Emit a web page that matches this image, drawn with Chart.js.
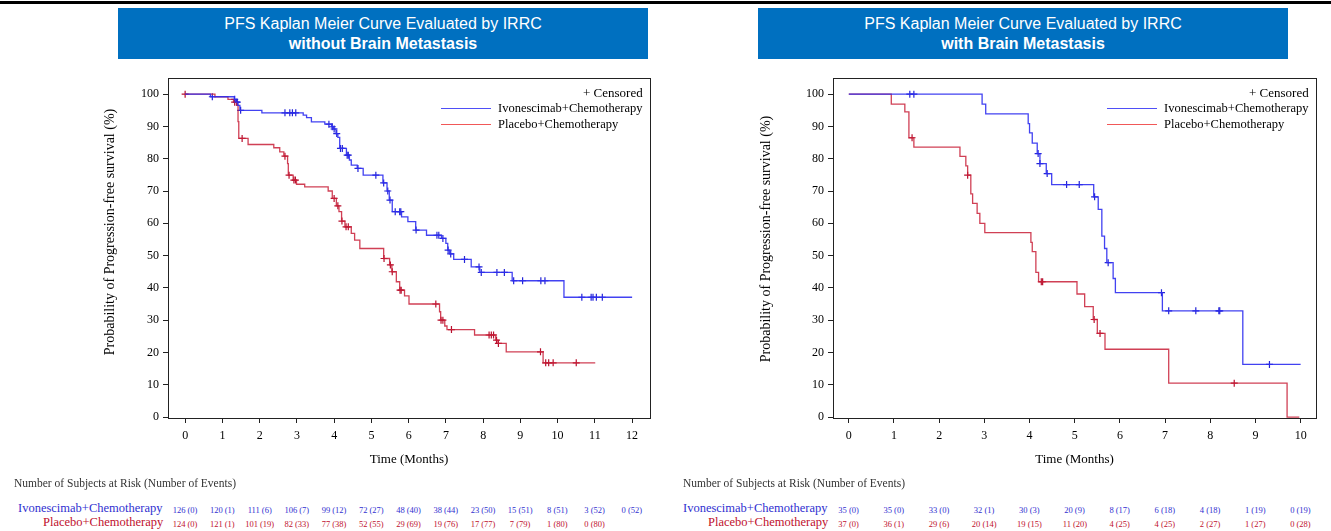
<!DOCTYPE html>
<html>
<head>
<meta charset="utf-8">
<script src="https://cdn.jsdelivr.net/npm/chart.js@4.4.1/dist/chart.umd.min.js"></script>
<style>
html,body{margin:0;padding:0;background:#fff;}
body{width:1331px;height:531px;position:relative;overflow:hidden;font-family:"Liberation Serif","Times New Roman",serif;}
.topline{position:absolute;left:0;top:1px;width:1331px;height:3px;background:#000;}
.tbox{position:absolute;top:8px;height:51px;width:530px;background:#0070C0;color:#fff;font-family:"Liberation Sans",Arial,sans-serif;font-size:16px;text-align:center;}
.tbox .l1{position:absolute;left:0;right:0;top:6px;line-height:20px;}
.tbox .l2{position:absolute;left:0;right:0;top:26px;line-height:20px;font-weight:bold;}
canvas{position:absolute;}
.abs{position:absolute;white-space:nowrap;line-height:1;}
.lg{font-size:12.5px;color:#000;}
.lgline{position:absolute;height:0;border-top:1.5px solid;}
.hdr{font-size:11.5px;color:#333;}
.rowlab{font-size:12.5px;}
.num{font-size:8.5px;}
.ytitle{position:absolute;width:320px;height:16px;line-height:16px;text-align:center;font-size:14px;color:#000;white-space:nowrap;transform:rotate(-90deg);transform-origin:50% 50%;}
</style>
</head>
<body>
<div class="topline"></div>
<div class="tbox" style="left:118px"><div class="l1">PFS Kaplan Meier Curve Evaluated by IRRC</div><div class="l2">without Brain Metastasis</div></div>
<div class="tbox" style="left:758px"><div class="l1">PFS Kaplan Meier Curve Evaluated by IRRC</div><div class="l2">with Brain Metastasis</div></div>
<canvas id="cL" width="562" height="410" style="left:98px;top:70px"></canvas>
<canvas id="cR" width="572" height="410" style="left:754px;top:70px"></canvas>
<div id="overlay"></div>
<script>
// ---------- data ----------
const seriesNames = ['Ivonescimab+Chemotherapy', 'Placebo+Chemotherapy'];
const riskHeader = 'Number of Subjects at Risk (Number of Events)';
const xTitle = 'Time (Months)';
const yTitle = 'Probability of Progression-free survival (%)';
const yTickValues = [0,10,20,30,40,50,60,70,80,90,100];

// Left panel: without brain metastasis
const leftXTicks = [0,1,2,3,4,5,6,7,8,9,10,11,12];
const leftIvoT = [0,0.68,1.32,1.36,1.42,1.47,2.06,3.17,3.26,3.39,3.75,3.93,3.98,4.05,4.10,4.15,4.33,4.41,4.46,4.62,4.78,5.31,5.42,5.48,5.56,5.81,5.98,6.19,6.48,6.88,7.00,7.05,7.10,7.21,7.68,7.91,8.78,10.17,12.0];
const leftIvoS = [100,99.2,98.4,97.5,96.5,95.0,94.2,93.5,92.7,91.4,90.7,89.9,89.2,87.8,86.6,83.2,81.1,79.6,78.0,77.0,74.9,72.5,70.0,67.2,63.6,62.0,60.5,57.9,56.3,55.3,53.8,51.7,50.5,48.8,46.5,44.8,42.2,37.1,37.1];
const leftIvoCens = [0.73,1.33,1.38,1.40,1.49,2.68,2.81,2.88,2.97,3.86,3.95,4.00,4.07,4.17,4.22,4.35,4.38,4.64,5.12,5.33,5.44,5.50,5.64,5.76,5.79,6.20,6.76,6.81,6.92,7.06,7.13,7.50,7.89,7.95,8.37,8.57,8.82,9.06,9.55,9.66,10.65,10.90,10.95,11.04,11.20];
const leftPboT = [0,0.80,1.15,1.30,1.38,1.42,1.44,1.69,2.38,2.54,2.65,2.75,2.77,2.90,2.99,3.21,3.84,3.95,4.06,4.13,4.20,4.29,4.46,4.55,4.69,5.33,5.49,5.55,5.67,5.76,5.89,6.01,6.83,6.86,6.97,7.03,7.77,8.34,8.40,8.62,9.61,11.01];
const leftPboS = [100,99.2,98.4,97.5,96.6,91.5,86.3,84.4,83.4,82.1,80.8,78.5,74.9,73.4,72.1,71.3,70.0,67.7,65.4,63.6,60.7,58.9,56.9,54.8,52.2,49.1,47.1,45.0,41.9,39.3,37.5,35.0,32.6,30.0,28.2,27.1,25.4,23.8,22.8,20.2,16.8,16.8];
const leftPboCens = [0,1.33,1.53,2.68,2.79,2.92,2.96,4.00,4.10,4.21,4.32,4.38,5.34,5.51,5.56,5.77,5.80,6.73,6.87,6.92,7.15,8.16,8.22,8.28,8.36,8.41,9.54,9.68,9.76,9.88,10.50];
const leftRiskIvo = [126,120,111,106,99,72,48,38,23,15,8,3,0];
const leftEventsIvo = [0,1,6,7,12,27,40,44,50,51,51,52,52];
const leftRiskPbo = [124,121,101,82,77,52,29,19,17,7,1,0];
const leftEventsPbo = [0,1,19,33,38,55,69,76,77,79,80,80];

// Right panel: with brain metastasis
const rightXTicks = [0,1,2,3,4,5,6,7,8,9,10];
const rightIvoT = [0,2.95,3.03,3.97,4.00,4.06,4.17,4.23,4.37,4.49,5.42,5.52,5.60,5.66,5.71,5.85,5.90,6.94,8.72,10.0];
const rightIvoS = [100,96.9,93.9,90.9,88.0,84.8,81.6,78.5,75.4,72.0,68.2,64.3,56.0,52.2,47.8,42.9,38.5,32.9,16.3,16.3];
const rightIvoCens = [1.35,1.44,4.19,4.23,4.39,4.82,5.10,5.44,5.74,6.92,7.08,7.68,8.19,8.21,9.31];
const rightPboT = [0,0.94,1.24,1.33,1.44,2.46,2.59,2.63,2.70,2.74,2.84,2.90,3.01,4.03,4.06,4.14,4.20,5.05,5.22,5.41,5.50,5.67,7.08,9.70,9.97];
const rightPboS = [100,96.9,94.5,86.5,83.6,80.7,77.8,74.9,69.1,66.2,63.1,60.0,57.1,54.1,51.2,44.8,41.9,38.1,34.2,30.2,25.9,21.0,10.5,0,0];
const rightPboCens = [1.40,2.63,4.26,4.29,5.43,5.56,8.53];
const rightRiskIvo = [35,35,33,32,30,20,8,6,4,1,0];
const rightEventsIvo = [0,0,0,1,3,9,17,18,18,19,19];
const rightRiskPbo = [37,36,29,20,19,11,4,4,2,1,0];
const rightEventsPbo = [0,1,6,14,15,20,25,25,27,27,28];

// ---------- styles ----------
const BLUE = 'rgba(45,45,240,0.9)';
const BLUE_MARK = '#2424d8';
const RED = 'rgba(200,30,55,0.85)';
const RED_MARK = '#b8102e';
const BLUE_TXT = '#3030d0';
const RED_TXT = '#c0102e';

function pts(T, S){ return T.map((t,i)=>({x:t, y:S[i]})); }
function survAt(T, S, t){ let v = S[0]; for (let i=0;i<T.length;i++){ if (T[i] <= t) v = S[i]; } return v; }
function censPts(C, T, S){ return C.map(t=>({x:t, y:survAt(T,S,t)})); }

const framePlugin = {
  id:'frame',
  afterDraw(chart){
    const a = chart.chartArea, ctx = chart.ctx;
    ctx.save(); ctx.strokeStyle = '#222'; ctx.lineWidth = 1;
    ctx.strokeRect(Math.round(a.left)+0.5, Math.round(a.top)+0.5, Math.round(a.right-a.left), Math.round(a.bottom-a.top));
    ctx.restore();
  }
};

function makeChart(id, cfg){
  const serif = 'Liberation Serif';
  return new Chart(document.getElementById(id), {
    type:'line',
    data:{datasets:[
      {label:seriesNames[0], data:pts(cfg.ivoT,cfg.ivoS), borderColor:BLUE, borderWidth:1.3, stepped:true, pointRadius:0, fill:false},
      {label:seriesNames[1], data:pts(cfg.pboT,cfg.pboS), borderColor:RED, borderWidth:1.3, stepped:true, pointRadius:0, fill:false},
      {label:'cens1', data:censPts(cfg.ivoC,cfg.ivoT,cfg.ivoS), showLine:false, pointStyle:'cross', pointRadius:3.5, pointBorderColor:BLUE_MARK, borderColor:BLUE_MARK, pointBorderWidth:1.2},
      {label:'cens2', data:censPts(cfg.pboC,cfg.pboT,cfg.pboS), showLine:false, pointStyle:'cross', pointRadius:3.5, pointBorderColor:RED_MARK, borderColor:RED_MARK, pointBorderWidth:1.2}
    ]},
    options:{
      responsive:false, animation:false, events:[],
      layout:{padding:{top:8,right:10,left:0,bottom:0}},
      plugins:{legend:{display:false}, tooltip:{enabled:false}},
      scales:{
        x:{type:'linear', min:cfg.xmin, max:cfg.xmax,
          afterBuildTicks:s=>{ s.ticks = cfg.xticks.map(v=>({value:v})); },
          afterFit:s=>{ s.height = 62; s.paddingLeft = 0; s.paddingRight = 0; },
          grid:{drawOnChartArea:false, drawTicks:true, tickLength:5, color:'#222'},
          border:{color:'#222', width:1},
          ticks:{font:{family:serif,size:12}, color:'#000', padding:6, maxRotation:0, autoSkip:false},
          title:{display:true, text:xTitle, font:{family:serif,size:13}, color:'#000', padding:{top:0,bottom:13}}
        },
        y:{type:'linear', min:-0.3, max:105,
          afterBuildTicks:s=>{ s.ticks = yTickValues.map(v=>({value:v})); },
          afterFit:s=>{ s.width = cfg.yw; s.paddingTop = 0; s.paddingBottom = 0; },
          grid:{drawOnChartArea:false, drawTicks:true, tickLength:5, color:'#222'},
          border:{color:'#222', width:1},
          ticks:{font:{family:serif,size:12}, color:'#000', padding:4},
          title:{display:false}
        }
      }
    },
    plugins:[framePlugin]
  });
}

const chartL = makeChart('cL', {ivoT:leftIvoT, ivoS:leftIvoS, ivoC:leftIvoCens, pboT:leftPboT, pboS:leftPboS, pboC:leftPboCens, xticks:leftXTicks, xmin:-0.46, xmax:12.48, yw:70});
const chartR = makeChart('cR', {ivoT:rightIvoT, ivoS:rightIvoS, ivoC:rightIvoCens, pboT:rightPboT, pboS:rightPboS, pboC:rightPboCens, xticks:rightXTicks, xmin:-0.35, xmax:10.34, yw:79});

// ---------- HTML overlays (axis titles, legend, risk table) ----------
const ov = document.getElementById('overlay');
function addText(txt, cls, css){ const d=document.createElement('div'); d.className='abs '+cls; d.textContent=txt; Object.assign(d.style, css); ov.appendChild(d); return d; }
function addLine(x, y, w, color){ const d=document.createElement('div'); d.className='lgline'; Object.assign(d.style,{left:x+'px', top:y+'px', width:w+'px', borderTopColor:color}); ov.appendChild(d); }
function addYTitle(cx, cy){ const d=document.createElement('div'); d.className='ytitle'; d.textContent=yTitle; d.style.left=(cx-160)+'px'; d.style.top=(cy-8)+'px'; ov.appendChild(d); }

function legend(chart, canvasLeft, canvasTop){
  const a = chart.chartArea;
  const right = canvasLeft + a.right - 7;
  const top = canvasTop + a.top;
  const c = addText('+ Censored', 'lg', {top:(top+8)+'px', fontSize:'13px'});
  c.style.left = (right - c.offsetWidth) + 'px';
  const t1 = addText(seriesNames[0], 'lg', {top:(top+24)+'px'});
  const t2 = addText(seriesNames[1], 'lg', {top:(top+40)+'px'});
  const w = Math.max(t1.offsetWidth, t2.offsetWidth);
  const tx = right - w;
  t1.style.left = tx+'px'; t2.style.left = tx+'px';
  addLine(tx-57, top+30, 50, 'rgba(60,60,245,0.9)');
  addLine(tx-57, top+46, 50, 'rgba(240,70,70,0.9)');
}

function riskTable(chart, canvasLeft, xticks, hdrX, labRight, riskI, evI, riskP, evP){
  const sx = chart.scales.x;
  addText(riskHeader, 'hdr', {left:hdrX+'px', top:'478px'});
  const l1 = addText(seriesNames[0], 'rowlab', {top:'502px', color:BLUE_TXT});
  const l2 = addText(seriesNames[1], 'rowlab', {top:'516px', color:RED_TXT});
  l1.style.left = (labRight - l1.offsetWidth)+'px';
  l2.style.left = (labRight - l2.offsetWidth)+'px';
  riskI.forEach((n,i)=>{ const d = addText(n+' ('+evI[i]+')', 'num', {top:'506px', color:BLUE_TXT}); d.style.left = (canvasLeft + sx.getPixelForValue(xticks[i]) - d.offsetWidth/2)+'px'; });
  riskP.forEach((n,i)=>{ const d = addText(n+' ('+evP[i]+')', 'num', {top:'520px', color:RED_TXT}); d.style.left = (canvasLeft + sx.getPixelForValue(xticks[i]) - d.offsetWidth/2)+'px'; });
}

addYTitle(110, 232);
addYTitle(766, 239);
legend(chartL, 98, 70);
legend(chartR, 754, 70);
riskTable(chartL, 98, leftXTicks, 14, 163, leftRiskIvo, leftEventsIvo, leftRiskPbo, leftEventsPbo);
riskTable(chartR, 754, rightXTicks, 683, 828, rightRiskIvo, rightEventsIvo, rightRiskPbo, rightEventsPbo);
</script>
</body>
</html>
